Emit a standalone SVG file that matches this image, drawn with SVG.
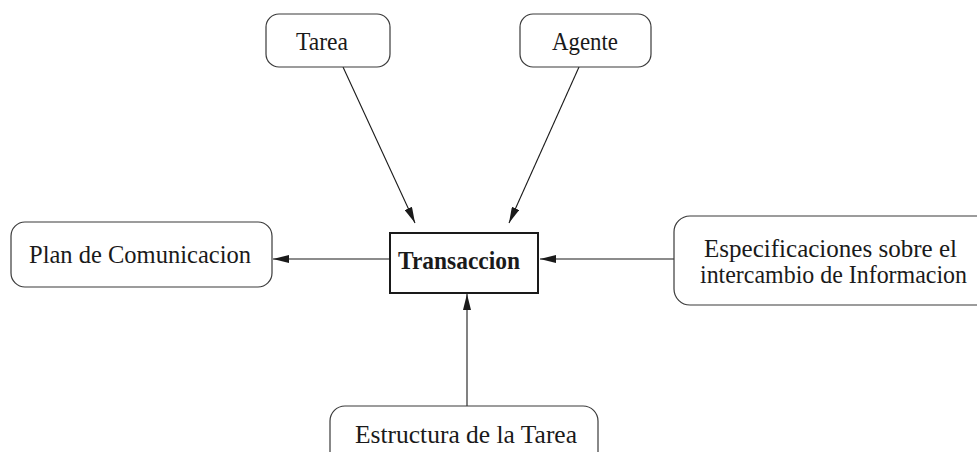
<svg xmlns="http://www.w3.org/2000/svg" width="977" height="452" viewBox="0 0 977 452">
  <style>
    .node { fill: #ffffff; stroke: #3a3a3a; stroke-width: 1.2; }
    .main { fill: #ffffff; stroke: #1a1a1a; stroke-width: 2; }
    .label { font-family: "Liberation Serif", "Times New Roman", serif; font-size: 24.5px; fill: #1a1a1a; }
    .title { font-family: "Liberation Serif", "Times New Roman", serif; font-size: 24.5px; font-weight: bold; fill: #1a1a1a; }
    .edge { stroke: #1a1a1a; stroke-width: 1.1; fill: none; marker-end: url(#head); }
  </style>
  <defs>
    <marker id="head" viewBox="0 0 16 8" refX="16" refY="4" markerWidth="16" markerHeight="8" markerUnits="userSpaceOnUse" orient="auto">
      <path d="M0,0 L16,4 L0,8 Z" fill="#1a1a1a"/>
    </marker>
  </defs>

  <rect width="977" height="452" fill="#ffffff"/>

  <g id="connectors">
    <line class="edge" x1="343" y1="67" x2="415" y2="223"/>
    <line class="edge" x1="579" y1="67" x2="509" y2="223"/>
    <line class="edge" x1="390" y1="259" x2="273" y2="259"/>
    <line class="edge" x1="674" y1="259" x2="540" y2="259"/>
    <line class="edge" x1="467" y1="406" x2="467" y2="294"/>
  </g>

  <g id="tarea">
    <rect class="node" x="266" y="14" width="124" height="53" rx="13"/>
    <text class="label" x="296" y="50" textLength="52" lengthAdjust="spacingAndGlyphs">Tarea</text>
  </g>

  <g id="agente">
    <rect class="node" x="520" y="14" width="131" height="53" rx="13"/>
    <text class="label" x="552" y="50" textLength="66" lengthAdjust="spacingAndGlyphs">Agente</text>
  </g>

  <g id="plan-comunicacion">
    <rect class="node" x="11" y="222" width="261" height="65" rx="14"/>
    <text class="label" x="29" y="263" textLength="222" lengthAdjust="spacingAndGlyphs">Plan de Comunicacion</text>
  </g>

  <g id="transaccion">
    <rect class="main" x="390" y="233" width="148" height="60"/>
    <text class="title" x="398" y="269" textLength="122" lengthAdjust="spacingAndGlyphs">Transaccion</text>
  </g>

  <g id="especificaciones">
    <rect class="node" x="674" y="216" width="320" height="89" rx="16"/>
    <text class="label" x="704" y="257" textLength="253" lengthAdjust="spacingAndGlyphs">Especificaciones sobre el</text>
    <text class="label" x="700" y="283" textLength="267" lengthAdjust="spacingAndGlyphs">intercambio de Informacion</text>
  </g>

  <g id="estructura-tarea">
    <rect class="node" x="330" y="406" width="268" height="70" rx="15"/>
    <text class="label" x="355" y="443" textLength="222" lengthAdjust="spacingAndGlyphs">Estructura de la Tarea</text>
  </g>
</svg>
